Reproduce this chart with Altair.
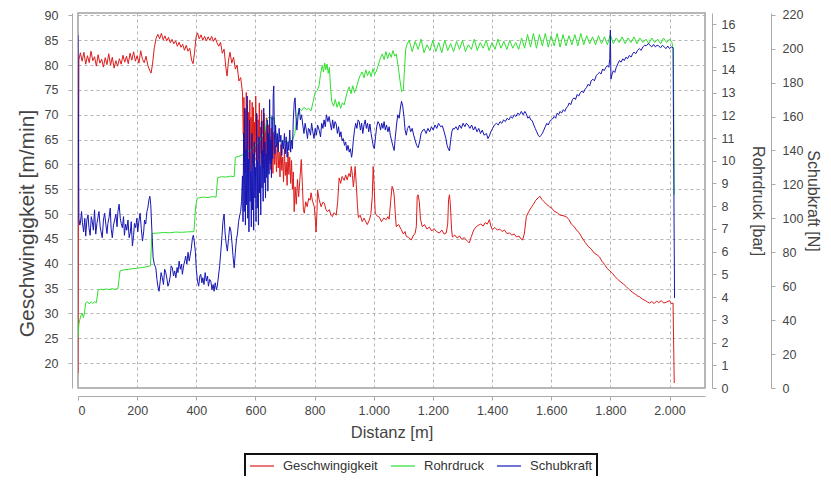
import altair as alt
import pandas as pd

series_names = ["Geschwingigkeit", "Rohrdruck", "Schubkraft"]
series_colors = ["#dd1c1c", "#2ee02e", "#1616b4"]

x_ticks = list(range(0, 2001, 200))
speed_ticks = list(range(20, 91, 5))
pressure_ticks = list(range(0, 17))
force_ticks = list(range(0, 221, 20))

# Geschwingigkeit [m/min]
dist_speed = [0, 3, 8, 14, 20, 26, 32, 38, 44, 50, 56, 62, 68, 74, 80, 86, 92, 98, 104, 110,
              116, 122, 128, 134, 140, 146, 152, 158, 164, 170, 176, 182, 188, 194, 200, 206, 212, 218, 224, 230,
              236, 242, 247, 252, 258, 264, 270, 276, 282, 288, 294, 300, 306, 312, 318, 324, 330, 336, 342, 348,
              354, 360, 366, 372, 378, 384, 389, 394, 399, 404, 410, 416, 422, 428, 434, 440, 446, 452, 458, 464,
              470, 476, 482, 488, 494, 500, 504, 509, 514, 520, 526, 532, 538, 544, 550, 556,
              559, 561, 563, 565, 567, 569, 571, 573, 575, 577, 579, 581, 583, 585, 587, 589, 591, 593, 595, 597,
              599, 601, 603, 605, 607, 609, 611, 613, 615, 617, 619, 621, 623, 625, 627, 629, 631, 633, 635, 637,
              639, 641, 643, 645, 647, 649, 651, 653, 655, 657, 659, 662, 665, 668, 671, 674, 677, 680, 683, 686,
              689, 692, 695, 698, 701, 704, 707, 710, 713, 716, 719, 722, 725, 728, 731, 734, 738, 742, 746, 752,
              755, 759, 762, 765, 770, 775, 780, 785, 788, 793, 799, 803, 805, 808, 810, 815, 822, 828, 833, 838,
              843, 850, 855, 860, 866, 873, 878, 883, 888, 893, 900, 905, 910, 916, 921, 924, 928, 931, 934, 937,
              941, 945, 948, 954, 961, 967, 972, 978, 985, 990, 995, 998, 1001, 1005, 1012, 1019, 1026, 1034, 1042, 1048,
              1052, 1057, 1062, 1066, 1069, 1073, 1076, 1084, 1093, 1100, 1106, 1110, 1118, 1127, 1133, 1140, 1144, 1147, 1150, 1154,
              1158, 1164, 1172, 1180, 1188, 1196, 1204, 1212, 1222, 1230, 1238, 1245, 1250, 1253, 1256, 1259, 1263, 1266, 1274, 1282,
              1290, 1298, 1306, 1313, 1318, 1323, 1330, 1338, 1347, 1355, 1362, 1370, 1377, 1384, 1391, 1396, 1401, 1410, 1418, 1426,
              1434, 1442, 1450, 1459, 1467, 1475, 1483, 1491, 1498, 1503, 1509, 1516, 1524, 1532, 1540, 1548, 1556, 1562, 1568, 1576,
              1584, 1594, 1602, 1610, 1620, 1630, 1640, 1651, 1660, 1668, 1676, 1686, 1695, 1705, 1715, 1725, 1735, 1745, 1755, 1763,
              1772, 1780, 1790, 1798, 1807, 1816, 1826, 1836, 1845, 1854, 1864, 1874, 1884, 1893, 1898, 1908, 1918, 1926, 1932, 1940,
              1948, 1956, 1964, 1972, 1980, 1990, 2000, 2006, 2012, 2016]
speed = [18, 81, 82.5, 80.8, 82.6, 80.2, 81.9, 80.5, 82.8, 80.9, 81.7, 79.8, 82.1, 80.4, 81.2, 79.6, 81.5, 80.1, 82.3, 80.0,
         81.6, 79.4, 80.9, 79.8, 81.3, 80.2, 82.0, 80.6, 81.8, 80.3, 82.4, 81.0, 82.7, 80.8, 81.9, 80.4, 82.9, 81.2, 80.5, 81.8,
         80.0, 79.0, 78.4, 80.2, 83.5, 85.4, 86.2, 85.3, 86.4, 85.1, 85.9, 84.9, 85.6, 84.5, 85.2, 84.3, 84.9, 83.8, 84.6, 83.6,
         84.2, 83.0, 84.0, 82.8, 83.4, 81.0, 80.3, 82.5, 85.6, 86.5, 85.3, 86.1, 85.0, 85.8, 84.9, 85.7, 85.0, 85.8, 84.8, 85.5,
         84.5, 83.8, 84.6, 82.4, 83.2, 79.5, 77.8, 81.0, 82.6, 80.4, 81.6, 79.2, 80.0, 76.8, 77.5, 74.6,
         66, 73.5, 60, 71, 58.5, 74.5, 62, 72, 59, 70.5, 61.5, 73, 58.8, 69.5, 63, 72.5, 60.2, 71.5, 59.5, 68.5,
         62.5, 73.8, 60.8, 70, 58.3, 69, 61, 72.4, 59.8, 67.5, 62.2, 71, 60.5, 68.8, 59.2, 70.3, 61.8, 67, 59.5, 69.4,
         60.3, 66.2, 58.7, 68, 61, 65.5, 59, 67.3, 60.5, 64.8, 58.2, 66.5, 60, 63.8, 58.5, 65, 59.3, 62.5, 57.5, 64,
         58.8, 61.5, 56.5, 63.2, 57.8, 60.5, 55.8, 62.5, 58, 61.5, 56.2, 60.8, 55, 58.5, 50.5, 55.5, 52, 57, 53.5, 58.5,
         61, 55.5, 51, 50.2, 52.5, 51.5, 53.2, 52.8, 54.3, 52.6, 51.5, 48.5, 46.4, 50.5, 54.9, 53.0, 51.5, 52.4, 52.2, 51.0,
         50.5, 50.9, 49.8, 49.5, 50.3, 49.8, 52.5, 57.3, 56.2, 57.6, 56.8, 57.9, 56.9, 58.2, 57.5, 59.6, 57.8, 55.5, 57.2, 59.6,
         56.0, 51.5, 49.3, 49.8, 48.5, 49.2, 48.6, 47.9, 48.8, 49.9, 53.5, 59.6, 56.0, 50.2, 49.6, 49.4, 48.5, 49.2, 48.9, 49.5,
         49.0, 52.5, 55.6, 55.0, 53.8, 50.0, 47.5, 47.9, 46.9, 46.0, 46.5, 45.5, 45.3, 44.8, 45.6, 46.2, 47.5, 53.6, 53.9, 52.5,
         49.0, 47.5, 47.9, 47.0, 47.4, 46.6, 47.1, 46.5, 46.2, 46.8, 46.0, 46.2, 48.0, 53.0, 53.9, 52.0, 47.0, 45.4, 45.8, 45.2,
         45.6, 44.9, 45.3, 44.8, 44.5, 44.2, 45.5, 46.8, 47.5, 47.8, 48.0, 47.6, 48.3, 48.0, 48.9, 47.6, 46.9, 47.3, 46.8, 47.0,
         46.5, 46.8, 46.1, 46.2, 45.8, 46.0, 45.4, 45.6, 45.0, 44.8, 46.0, 49.5, 50.5, 51.3, 52.0, 52.8, 53.3, 53.6, 53.0, 52.5,
         52.0, 51.5, 51.2, 50.6, 50.3, 49.8, 49.7, 49.5, 48.9, 48.0, 47.6, 46.8, 46.2, 45.2, 44.3, 43.5, 43.0, 42.2, 41.8, 41.4,
         40.5, 39.9, 39.0, 38.6, 38.1, 37.4, 36.8, 36.3, 35.9, 35.4, 34.8, 34.3, 33.9, 33.5, 33.4, 32.9, 32.6, 32.3, 32.1, 32.4,
         32.0, 32.5, 32.2, 32.6, 32.1, 32.3, 32.6, 32.0, 32.1, 16]

# Rohrdruck [bar]
dist_pressure = [0, 3, 6, 10, 14, 18, 22, 26, 32, 38, 44, 50, 56, 62, 68, 75, 85, 95, 105, 115,
                 125, 135, 142, 155, 170, 185, 200, 215, 230, 245, 250, 270, 290, 310, 330, 350, 370, 392, 398, 403,
                 420, 440, 455, 467, 472, 485, 500, 515, 528, 532, 545, 555, 575, 595, 615, 632, 640, 648, 656, 663,
                 668, 674, 685, 695, 705, 715, 725, 733, 740, 748, 756, 764, 772, 780, 788, 795, 802, 809, 815, 820,
                 826, 830, 834, 838, 842, 846, 850, 854, 858, 864, 870, 876, 882, 888, 894, 900, 906, 912, 917, 923,
                 929, 935, 941, 947, 954, 961, 967, 973, 979, 985, 991, 997, 1003, 1009, 1015, 1022, 1029, 1035, 1041, 1047,
                 1053, 1059, 1065, 1071, 1076, 1082, 1088, 1094, 1100, 1104, 1108, 1112,
                 1120, 1130, 1140, 1150, 1160, 1170, 1180, 1190, 1200, 1210, 1220, 1230, 1240, 1250, 1260, 1270, 1280, 1290, 1300, 1310,
                 1320, 1330, 1340, 1350, 1360, 1370, 1380, 1390, 1400, 1410, 1420, 1430, 1440, 1450, 1460, 1470, 1480, 1490, 1500, 1510,
                 1520, 1530, 1540, 1550, 1560, 1570, 1580, 1590, 1600, 1610, 1620, 1630, 1640, 1650, 1660, 1670, 1680, 1690, 1700, 1710,
                 1720, 1730, 1740, 1750, 1760, 1770, 1780, 1790, 1800, 1810, 1820, 1830, 1840, 1850, 1860, 1870, 1880, 1890, 1900, 1910,
                 1920, 1930, 1940, 1950, 1960, 1970, 1980, 1990, 2000, 2008, 2013, 2016]
pressure = [2.2, 2.8, 3.0, 3.2, 3.3, 3.1, 3.3, 3.75, 3.8, 3.7, 3.8, 3.72, 3.8, 3.75, 4.3, 4.35, 4.32, 4.36, 4.33, 4.37,
            4.34, 4.38, 5.15, 5.2, 5.22, 5.25, 5.27, 5.3, 5.33, 5.38, 6.8, 6.82, 6.84, 6.83, 6.86, 6.85, 6.87, 6.88, 8.0, 8.35,
            8.4, 8.38, 8.42, 8.4, 9.25, 9.3, 9.28, 9.32, 9.3, 10.15, 10.2, 10.25, 10.4, 10.6, 10.9, 11.3, 11.85, 11.95, 11.8, 11.9,
            11.3, 10.85, 10.9, 10.8, 10.88, 10.82, 10.9, 11.2, 11.9, 12.3, 12.2, 12.35, 12.25, 12.3, 12.2, 12.6, 13.0, 13.1, 13.3, 13.8,
            14.2, 13.9, 14.3, 14.0, 14.25, 13.85, 14.1, 13.2, 12.6, 12.4, 12.7, 12.35, 12.6, 12.3, 12.55, 12.45, 12.8, 13.1, 13.25, 12.95,
            13.3, 13.0, 13.2, 13.5, 13.75, 13.9, 13.65, 14.0, 13.75, 13.95, 13.7, 14.05, 13.8, 13.95, 14.2, 14.5, 14.7, 14.45, 14.8, 14.5,
            14.75, 14.55, 14.85, 14.6, 14.7, 14.2, 13.6, 13.05, 13.1, 14.0, 14.9, 15.1,
            15.3, 14.8, 15.25, 14.9, 15.35, 14.75, 15.1, 14.85, 15.3, 14.8, 15.2, 14.75, 15.3, 14.85, 15.15, 14.8, 15.25, 14.9, 15.3, 14.8,
            15.1, 14.9, 15.35, 14.85, 15.2, 14.95, 15.3, 14.85, 15.2, 14.9, 15.35, 14.95, 15.25, 14.9, 15.3, 14.95, 15.2, 14.9, 15.4, 14.95,
            15.55, 15.0, 15.6, 14.95, 15.55, 15.05, 15.6, 15.0, 15.5, 15.05, 15.6, 15.0, 15.55, 15.05, 15.5, 15.1, 15.55, 15.05, 15.6, 15.1,
            15.5, 15.15, 15.45, 15.1, 15.5, 15.15, 15.45, 15.1, 15.55, 15.15, 15.4, 15.2, 15.45, 15.15, 15.4, 15.2, 15.45, 15.15, 15.4, 15.2,
            15.35, 15.15, 15.4, 15.2, 15.35, 15.15, 15.4, 15.2, 15.35, 15.2, 14.9, 8.5]

# Schubkraft [N]
dist_force = [0, 3, 6, 8, 12, 15, 19, 23, 26, 30, 34, 37, 41, 45, 48, 52, 56, 60, 64, 67,
              71, 75, 78, 82, 86, 90, 94, 98, 101, 105, 109, 112, 116, 120, 124, 128, 132, 135, 139, 143,
              146, 150, 154, 157, 161, 165, 169, 173, 177, 180, 184, 188, 191, 195, 199, 202, 206, 210, 214, 218,
              222, 225, 229, 233, 236, 240, 243, 246, 250, 254, 258, 263, 267, 270, 274, 278, 281, 285, 289, 293,
              297, 301, 304, 308, 312, 315, 319, 323, 327, 331, 335, 338, 342, 346, 350, 353, 357, 361, 364, 368,
              372, 376, 380, 383, 387, 390, 393, 397, 400, 404, 408, 412, 415, 419, 422, 426, 430, 434, 438, 441,
              445, 449, 453, 457, 460, 464, 468, 471, 475, 479, 483, 487, 490, 494, 497, 501, 505, 509, 513, 517,
              521, 524, 528, 532, 536, 539, 543, 547, 550, 553,
              556, 558, 560, 562, 564, 566, 568, 570, 572, 574, 576, 578, 580, 582, 584, 586, 588, 590, 592, 594,
              596, 598, 600, 602, 604, 606, 608, 610, 612, 614, 616, 618, 620, 622, 624, 626, 628, 630, 632, 634,
              636, 638, 640, 642, 644, 646, 648, 650, 652, 654, 656, 658, 660, 662, 664, 666, 668, 671, 674, 677,
              680, 683, 686, 689, 692, 695, 698, 701, 704, 707, 710, 713, 716, 719, 722, 725, 728, 731, 734, 737,
              740, 744, 748, 752, 756, 760, 764, 768, 772, 776, 779, 782, 786, 790, 794, 798, 802, 806, 810, 816,
              820, 824, 828, 832, 836, 840, 845, 849, 853, 857, 861, 865, 869, 873, 877, 881, 885, 889, 893, 897,
              901, 905, 909, 913, 917, 921, 925, 927, 931, 935, 939, 943, 947, 951, 955, 959, 963, 967, 971, 975,
              979, 983, 987, 991, 995, 999, 1002, 1006, 1010, 1014, 1019, 1023, 1027, 1031, 1035, 1039, 1043, 1048, 1052, 1056,
              1060, 1064, 1069, 1073, 1077, 1081, 1086, 1090, 1094, 1098, 1102, 1106, 1110, 1114, 1120, 1125, 1130, 1135, 1140, 1145,
              1150, 1155, 1160, 1166, 1171, 1177, 1183, 1189, 1195, 1201, 1207, 1213, 1219, 1226, 1232, 1238, 1244, 1248, 1252, 1256,
              1260, 1264, 1268, 1272, 1278, 1284, 1290, 1296, 1302, 1308, 1313, 1319, 1325, 1331, 1337, 1343, 1349, 1355, 1361, 1367,
              1373, 1381, 1386, 1391, 1396, 1402, 1408, 1415, 1421, 1427, 1433, 1439, 1445, 1451, 1457, 1463, 1469, 1475, 1481, 1487,
              1493, 1499, 1505, 1511, 1516, 1521, 1526, 1531, 1536, 1541, 1546, 1551, 1556, 1561, 1566, 1570, 1575, 1580, 1585, 1590,
              1595, 1600, 1604, 1610, 1615, 1620, 1625, 1630, 1635, 1641, 1646, 1651, 1656, 1661, 1666, 1672, 1677, 1682, 1688, 1693,
              1698, 1704, 1709, 1714, 1719, 1725, 1730, 1735, 1741, 1746, 1752, 1757, 1763, 1768, 1774, 1779, 1785, 1790, 1795, 1798,
              1800, 1802, 1806, 1810, 1815, 1820, 1825, 1831, 1836, 1842, 1847, 1853, 1858, 1864, 1870, 1875, 1880, 1886, 1892, 1898,
              1904, 1910, 1916, 1922, 1928, 1934, 1940, 1946, 1952, 1958, 1964, 1970, 1976, 1982, 1988, 1994, 2000, 2006, 2012, 2017]
force = [208, 100, 96, 97, 104, 97.4, 92, 100, 89.5, 99, 102, 94.5, 90, 101, 98.4, 93, 105, 90.7, 97, 100,
         104, 95, 92, 88.6, 99, 103, 96.6, 91, 97, 100.4, 106, 94, 88.6, 96, 99, 102.4, 95, 104, 108.3, 100,
         97, 94.5, 101, 90, 96.6, 93, 99, 88.6, 92, 98, 83.7, 90, 97, 94.5, 100, 92, 98.4, 103, 94, 86.6,
         92, 99, 96.6, 104, 106, 111, 113, 108, 92, 76.7, 73, 70.8, 64, 60, 57, 63, 68, 65, 61, 70,
         67.9, 64, 60, 62, 66, 72, 70.8, 66, 69, 65, 71, 68, 74.8, 70, 73, 67, 72, 75, 77.7, 73,
         80, 74.8, 79, 82, 88.6, 90, 86.6, 80, 70, 63, 60, 66, 67, 62, 65, 61, 68, 63, 66, 60,
         64, 63, 58, 61, 57, 62, 58, 60, 66, 72, 80.7, 90, 98, 102.5, 92, 85, 80.7, 88, 95, 92.5,
         85, 78, 70.8, 80, 88, 90.7, 98, 102, 104, 110,
         125, 98, 150, 104, 165, 96, 140, 108, 172, 100, 135, 92, 158, 110, 128, 95, 150, 105, 138, 93,
         145, 112, 130, 98, 162, 106, 134, 96, 148, 115, 131, 102, 157, 118, 140, 110, 165, 121, 145, 112,
         138, 124, 158, 116, 150, 126, 170, 132, 146, 124, 160, 135, 172, 178, 150, 138, 155, 142, 150, 139,
         153, 145, 149, 137, 146, 141, 150, 138, 148, 136, 145, 140, 152, 139, 146, 141, 158, 168, 171, 160,
         152, 160, 165, 158, 161, 155, 150, 156, 152, 147, 153, 152.6, 149, 156, 151, 147, 153, 149, 155, 151.6,
         148, 156, 153, 158, 154, 161, 157, 160, 156, 152, 158, 153, 157, 155.6, 150, 154, 148, 151, 145.6, 147,
         143, 145, 140, 143, 139, 141, 136, 138, 146, 152, 156, 153, 158, 157, 152, 156, 150, 155, 158, 153,
         156, 151, 155.6, 150, 146, 142, 141, 148, 154, 157, 155.6, 152, 156, 153, 157, 152, 155, 151, 154, 149,
         146, 143, 140, 148, 155, 161, 159, 165, 169, 166, 160, 152, 149, 153, 154.5, 151, 153, 149, 146, 143,
         141.6, 145, 150, 152, 152.5, 150, 153, 151, 154, 152, 155, 153, 156, 154, 154.5, 151, 147, 143, 141, 139.7,
         146, 151, 153, 152.5, 154, 152, 155, 153, 156, 154, 156, 155, 153, 155, 152, 154, 151, 153, 150, 152,
         149, 150, 147, 148.6, 151, 153, 155, 156, 155, 157, 156, 158, 157, 159, 158, 160, 159, 161, 160, 162,
         161, 163, 161, 163, 161.5, 159, 160, 158, 157.5, 155, 153, 151, 149, 148, 149, 150, 152, 154, 156, 155,
         157, 158, 158.5, 160, 159, 162, 161, 163, 162, 164, 163, 165, 166, 168, 167, 170, 171, 170, 173, 172,
         174, 175, 174, 176, 177, 179, 178, 181, 182, 181, 184, 185, 186, 185, 188, 187, 189, 190, 189, 194,
         211, 182, 185, 187, 186, 189, 191, 193, 192, 194, 193, 195, 194, 196, 195, 196.8, 198, 197, 199, 200,
         199, 201, 202, 201.7, 203, 202, 201, 202.5, 201, 202, 201.5, 200.5, 202, 201, 200, 201.5, 200, 201, 200.5, 53]

df_speed = pd.DataFrame({"Distanz": dist_speed, "Wert": speed, "Serie": series_names[0]})
df_pressure = pd.DataFrame({"Distanz": dist_pressure, "Wert": pressure, "Serie": series_names[1]})
df_force = pd.DataFrame({"Distanz": dist_force, "Wert": force, "Serie": series_names[2]})

FONT = "Liberation Sans"

x_enc = alt.X(
    "Distanz:Q",
    scale=alt.Scale(domain=[0, 2120], nice=False, zero=False),
    axis=alt.Axis(
        values=x_ticks,
        labelExpr="replace(format(datum.value, ','), ',', '.')",
        offset=8,
        grid=True,
        title="Distanz [m]",
        titleFontSize=16.5,
        labelFontSize=12.5,
        labelPadding=4,
        titlePadding=8,
    ),
)

color_enc = alt.Color(
    "Serie:N",
    scale=alt.Scale(domain=series_names, range=series_colors),
    legend=alt.Legend(
        orient="none",
        legendX=167,
        legendY=441,
        direction="horizontal",
        title=None,
        symbolType="M-1,0H2.43",
        symbolSize=196,
        symbolStrokeWidth=1.2,
        labelFontSize=13,
        labelFont=FONT,
        labelColor="#333",
        labelOffset=18,
        columnPadding=10,
        padding=4,
        strokeColor="#111",
        fillColor="white",
    ),
)

speed_layer = alt.Chart(df_speed).mark_line(strokeWidth=1, clip=True).encode(
    x=x_enc,
    y=alt.Y(
        "Wert:Q",
        scale=alt.Scale(domain=[15, 90.5], nice=False, zero=False),
        axis=alt.Axis(
            values=speed_ticks,
            orient="left",
            offset=6,
            grid=True,
            title="Geschwingigkeit [m/min]",
            titleFontSize=21,
            titleY=210,
            labelFontSize=12.5,
            labelPadding=10,
            titlePadding=7,
        ),
    ),
    color=color_enc,
    order=alt.Order("Distanz:Q"),
)

pressure_layer = alt.Chart(df_pressure).mark_line(strokeWidth=1, clip=True).encode(
    x=x_enc,
    y=alt.Y(
        "Wert:Q",
        scale=alt.Scale(domain=[0, 16.5], nice=False, zero=False),
        axis=alt.Axis(
            values=pressure_ticks,
            orient="right",
            offset=7,
            grid=False,
            title="Rohrdruck [bar]",
            titleFontSize=16,
            labelFontSize=12.5,
            labelPadding=5,
            titlePadding=15,
        ),
    ),
    color=color_enc,
    order=alt.Order("Distanz:Q"),
)

force_layer = alt.Chart(df_force).mark_line(strokeWidth=1, clip=True).encode(
    x=x_enc,
    y=alt.Y(
        "Wert:Q",
        scale=alt.Scale(domain=[0, 221], nice=False, zero=False),
        axis=alt.Axis(
            values=force_ticks,
            orient="right",
            offset=66,
            grid=False,
            title="Schubkraft [N]",
            titleFontSize=16,
            labelFontSize=12.5,
            labelPadding=7,
            titlePadding=2,
        ),
    ),
    color=color_enc,
    order=alt.Order("Distanz:Q"),
)

chart = (
    alt.layer(speed_layer, pressure_layer, force_layer)
    .resolve_scale(y="independent")
    .properties(
        width=627,
        height=375,
        padding={"left": 70, "top": 5, "right": 118, "bottom": 88},
        autosize=alt.AutoSizeParams(type="none"),
        background="white",
    )
    .configure_view(stroke="#a0a0a0", strokeWidth=1.5)
    .configure_axis(
        labelFont=FONT,
        titleFont=FONT,
        labelColor="#444",
        titleColor="#444",
        titleFontWeight="normal",
        domainColor="#aaaaaa",
        tickColor="#aaaaaa",
        tickSize=4,
        gridColor="#b4b4b4",
        gridDash=[3, 3],
        gridWidth=1,
    )
    .configure_legend(strokeWidth=2)
)

chart.save("out.html", embed_options={"renderer": "svg", "actions": False})
